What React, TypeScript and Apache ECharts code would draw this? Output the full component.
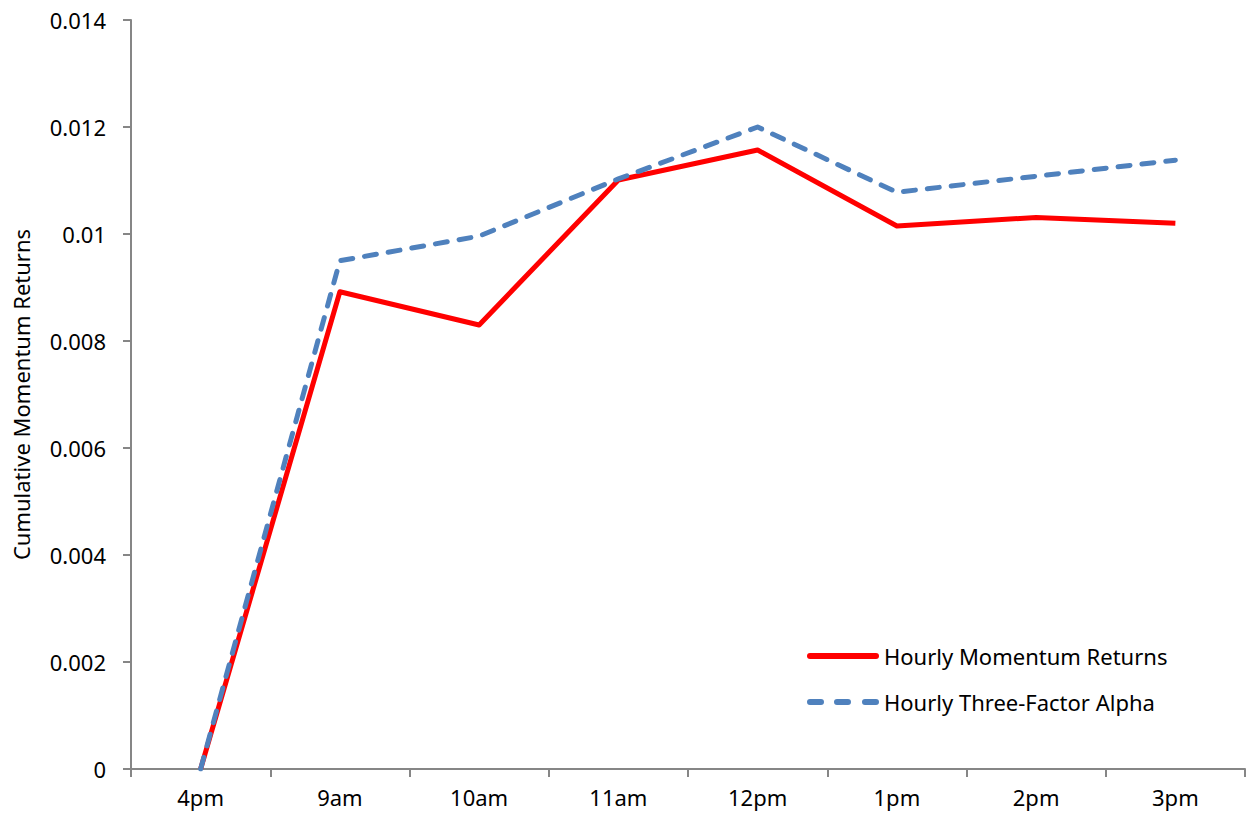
import React, { useEffect, useRef } from "react";
import * as echarts from "echarts";

const categories = ["4pm", "9am", "10am", "11am", "12pm", "1pm", "2pm", "3pm"];
const momentumReturns = [0, 0.00892, 0.0083, 0.01101, 0.01157, 0.01015, 0.01031, 0.0102];
const threeFactorAlpha = [0, 0.0095, 0.00996, 0.01103, 0.012, 0.01078, 0.01108, 0.01138];
const yTicks = { min: 0, max: 0.014, interval: 0.002 };

const FONT = "'Noto Sans', 'Open Sans', sans-serif";
const AXIS_COLOR = "#868686";
const RED = "#FF0000";
const BLUE = "#4F81BD";

const SOLID_ICON = "path://M3,0 L69,0 A3,3 0 0 1 69,6 L3,6 A3,3 0 0 1 3,0 Z";
const DASH_ICON =
  "path://M3,0 L14,0 A3,3 0 0 1 14,6 L3,6 A3,3 0 0 1 3,0 Z " +
  "M30,0 L41,0 A3,3 0 0 1 41,6 L30,6 A3,3 0 0 1 30,0 Z " +
  "M58,0 L69,0 A3,3 0 0 1 69,6 L58,6 A3,3 0 0 1 58,0 Z";

export default function App() {
  const ref = useRef<HTMLDivElement>(null);
  useEffect(() => {
    if (!ref.current) return;
    const chart = echarts.init(ref.current, undefined, { renderer: "svg" });
    chart.setOption({
      animation: false,
      backgroundColor: "#ffffff",
      grid: { left: 131, right: 3, top: 20, bottom: 52, containLabel: false, outerBoundsMode: "none" },
      xAxis: {
        type: "category",
        data: categories,
        boundaryGap: true,
        axisLine: { lineStyle: { color: AXIS_COLOR, width: 2 } },
        axisTick: { show: true, length: 8, lineStyle: { color: AXIS_COLOR, width: 2 } },
        axisLabel: { color: "#000", fontSize: 22, fontFamily: FONT, margin: 17 },
        splitLine: { show: false },
      },
      yAxis: {
        type: "value",
        min: yTicks.min,
        max: yTicks.max,
        interval: yTicks.interval,
        name: "Cumulative Momentum Returns",
        nameLocation: "middle",
        nameGap: 99,
        nameTextStyle: { color: "#000", fontSize: 22, fontFamily: FONT },
        axisLine: { show: true, lineStyle: { color: AXIS_COLOR, width: 2 } },
        axisTick: { show: true, length: 8, lineStyle: { color: AXIS_COLOR, width: 2 } },
        axisLabel: { color: "#000", fontSize: 22, fontFamily: FONT, margin: 25 },
        splitLine: { show: false },
      },
      legend: {
        orient: "vertical",
        left: 802,
        top: 640,
        itemWidth: 72,
        itemHeight: 6,
        itemGap: 24,
        textStyle: { color: "#000", fontSize: 22, fontFamily: FONT },
        data: [
          { name: "Hourly Momentum Returns", icon: SOLID_ICON, itemStyle: { color: RED } },
          { name: "Hourly Three-Factor Alpha", icon: DASH_ICON, itemStyle: { color: BLUE } },
        ],
      },
      series: [
        {
          name: "Hourly Momentum Returns",
          type: "line",
          data: momentumReturns,
          symbol: "none",
          showSymbol: false,
          itemStyle: { color: RED },
          lineStyle: { color: RED, width: 5, join: "round" },
          z: 2,
        },
        {
          name: "Hourly Three-Factor Alpha",
          type: "line",
          data: threeFactorAlpha,
          symbol: "none",
          showSymbol: false,
          itemStyle: { color: BLUE },
          lineStyle: { color: BLUE, width: 5, type: [12, 12], cap: "round", join: "round" },
          z: 3,
        },
      ],
    });
    return () => chart.dispose();
  }, []);
  return (
    <div
      ref={ref}
      style={{ position: "fixed", left: 0, top: 0, width: 1248, height: 821, background: "#fff" }}
    />
  );
}
